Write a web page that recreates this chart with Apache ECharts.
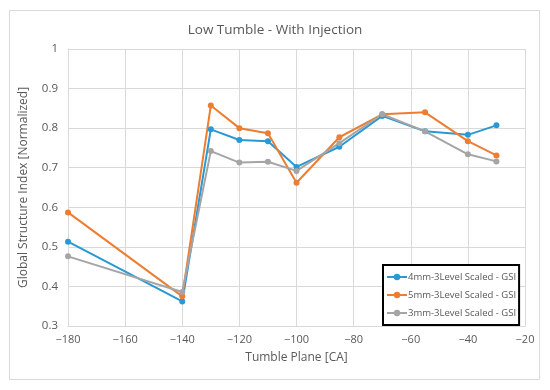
<!DOCTYPE html>
<html><head><meta charset="utf-8">
<script src="https://cdn.jsdelivr.net/npm/echarts@6/dist/echarts.min.js"></script>
<style>html,body{margin:0;padding:0;background:#fff}#c{width:550px;height:390px}</style>
</head><body><div id="c"></div>
<script>
const xValues = [-180, -140, -130, -120, -110, -100, -85, -70, -55, -40, -30];
const gsi4mm = [0.513, 0.362, 0.797, 0.770, 0.767, 0.702, 0.753, 0.831, 0.792, 0.783, 0.807];
const gsi5mm = [0.587, 0.375, 0.857, 0.800, 0.787, 0.662, 0.777, 0.835, 0.840, 0.767, 0.731];
const gsi3mm = [0.476, 0.386, 0.742, 0.713, 0.715, 0.692, 0.762, 0.835, 0.792, 0.734, 0.716];
const seriesNames = ['4mm-3Level Scaled - GSI', '5mm-3Level Scaled - GSI', '3mm-3Level Scaled - GSI'];
const colors = ['#2899d5', '#ed7d31', '#a5a5a5'];

const font = '"Open Sans", "Noto Sans", sans-serif';
const txt = '#595959';
function pairs(ys){ return xValues.map((x,i)=>[x, ys[i]]); }
const chart = echarts.init(document.getElementById('c'), null, {renderer:'canvas'});
const mk = (name, ys, color) => ({
  name, type:'line', data: pairs(ys), color,
  lineStyle:{width:2, color}, itemStyle:{color},
  symbol:'circle', symbolSize:6, showSymbol:true
});
chart.setOption({
  animation:false,
  backgroundColor:'#fff',
  graphic:[{type:'rect', shape:{x:9.5, y:10.5, width:530, height:369}, style:{fill:'none', stroke:'#d9d9d9', lineWidth:1}, z:-1}],
  title:{text:'Low Tumble - With Injection', left:'center', top:18,
    textStyle:{fontFamily:font, fontSize:13.5, fontWeight:'normal', color:txt}},
  grid:{left:68, right:25, top:49, bottom:64},
  legend:{
    orient:'vertical', left:383, top:265,
    backgroundColor:'#fff', borderColor:'#000', borderWidth:2, padding:[7,3,7,3],
    itemGap:8, itemWidth:20, itemHeight:8,
    textStyle:{fontFamily:font, fontSize:9.5, color:txt, padding:[0,0,0,-4]},
    data: seriesNames
  },
  xAxis:{
    type:'value', min:-180, max:-20, interval:20,
    name:'Tumble Plane [CA]', nameLocation:'middle', nameGap:26,
    nameTextStyle:{fontFamily:font, fontSize:12, color:txt},
    axisLine:{show:true, lineStyle:{color:'#d9d9d9'}},
    axisTick:{show:false},
    axisLabel:{fontFamily:font, fontSize:11, color:txt, margin:8,
      formatter:v=> (v<0?'\u2212':'')+Math.abs(v)},
    splitLine:{show:true, lineStyle:{color:'#d9d9d9'}}
  },
  yAxis:{
    type:'value', min:0.3, max:1, interval:0.1,
    name:'Global Structure Index [Normalized]', nameLocation:'middle', nameGap:38,
    nameTextStyle:{fontFamily:font, fontSize:12, color:txt},
    axisLine:{show:true, lineStyle:{color:'#d9d9d9'}},
    axisTick:{show:false},
    axisLabel:{fontFamily:font, fontSize:11.5, color:txt, margin:10,
      formatter:v=> String(Math.round(v*10)/10)},
    splitLine:{show:true, lineStyle:{color:'#d9d9d9'}}
  },
  series:[
    mk(seriesNames[0], gsi4mm, colors[0]),
    mk(seriesNames[1], gsi5mm, colors[1]),
    mk(seriesNames[2], gsi3mm, colors[2])
  ]
});
</script></body></html>
